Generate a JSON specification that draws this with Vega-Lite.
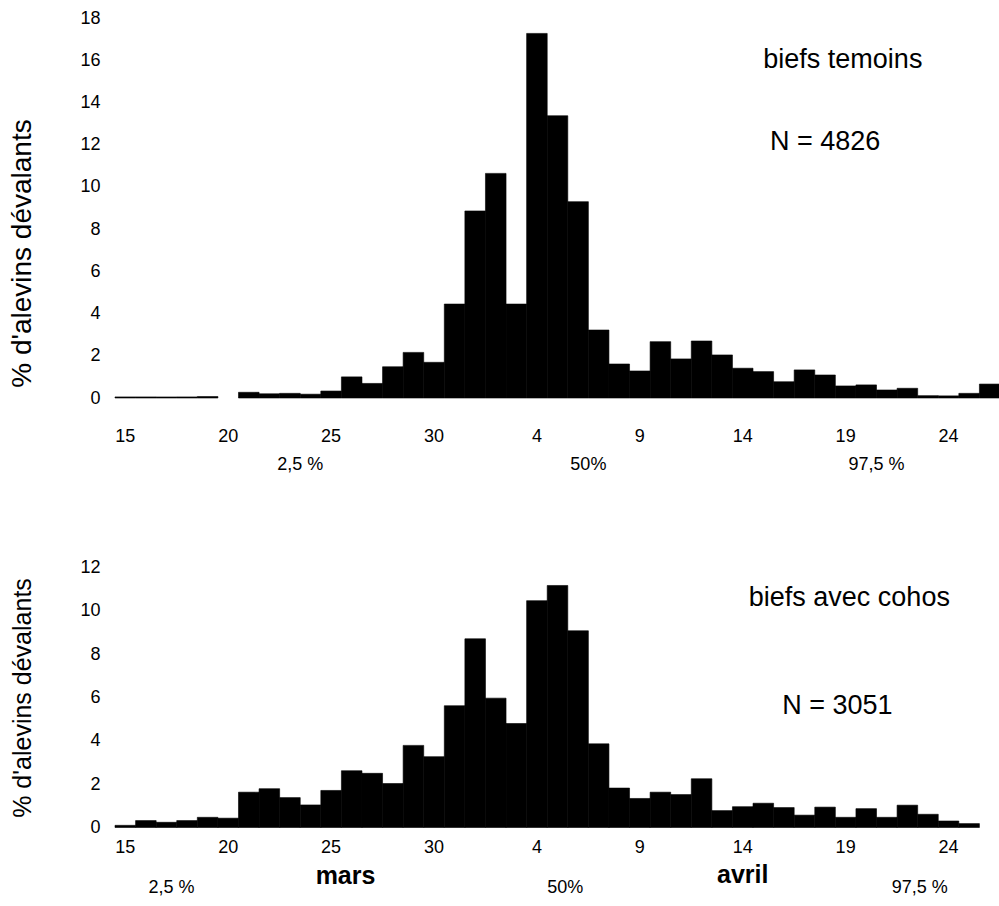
{
  "$schema": "https://vega.github.io/schema/vega-lite/v6.json",
  "padding": {"left": 8, "top": 9, "right": 0, "bottom": 0},
  "background": "white",
  "config": {
    "font": "Liberation Sans",
    "view": {"stroke": null},
    "axis": {"grid": false, "domain": false, "ticks": false, "labelColor": "black", "titleColor": "black", "titleFontWeight": "normal"}
  },
  "spacing": 169.5,
  "bounds": "flush",
  "datasets": {
    "temoins": [
      {"date": "03-15", "pct": 0.05}, {"date": "03-16", "pct": 0.05}, {"date": "03-17", "pct": 0.05},
      {"date": "03-18", "pct": 0.05}, {"date": "03-19", "pct": 0.07}, {"date": "03-20", "pct": 0},
      {"date": "03-21", "pct": 0.27}, {"date": "03-22", "pct": 0.2}, {"date": "03-23", "pct": 0.22},
      {"date": "03-24", "pct": 0.18}, {"date": "03-25", "pct": 0.33}, {"date": "03-26", "pct": 1.0},
      {"date": "03-27", "pct": 0.69}, {"date": "03-28", "pct": 1.48}, {"date": "03-29", "pct": 2.16},
      {"date": "03-30", "pct": 1.69}, {"date": "03-31", "pct": 4.45}, {"date": "04-01", "pct": 8.86},
      {"date": "04-02", "pct": 10.64}, {"date": "04-03", "pct": 4.45}, {"date": "04-04", "pct": 17.27},
      {"date": "04-05", "pct": 13.37}, {"date": "04-06", "pct": 9.3}, {"date": "04-07", "pct": 3.22},
      {"date": "04-08", "pct": 1.61}, {"date": "04-09", "pct": 1.28}, {"date": "04-10", "pct": 2.67},
      {"date": "04-11", "pct": 1.85}, {"date": "04-12", "pct": 2.7}, {"date": "04-13", "pct": 2.04},
      {"date": "04-14", "pct": 1.41}, {"date": "04-15", "pct": 1.25}, {"date": "04-16", "pct": 0.77},
      {"date": "04-17", "pct": 1.33}, {"date": "04-18", "pct": 1.09}, {"date": "04-19", "pct": 0.57},
      {"date": "04-20", "pct": 0.62}, {"date": "04-21", "pct": 0.38}, {"date": "04-22", "pct": 0.46},
      {"date": "04-23", "pct": 0.11}, {"date": "04-24", "pct": 0.1}, {"date": "04-25", "pct": 0.22},
      {"date": "04-26", "pct": 0.66}
    ],
    "cohos": [
      {"date": "03-15", "pct": 0.1}, {"date": "03-16", "pct": 0.32}, {"date": "03-17", "pct": 0.24},
      {"date": "03-18", "pct": 0.32}, {"date": "03-19", "pct": 0.47}, {"date": "03-20", "pct": 0.43},
      {"date": "03-21", "pct": 1.63}, {"date": "03-22", "pct": 1.79}, {"date": "03-23", "pct": 1.38},
      {"date": "03-24", "pct": 1.04}, {"date": "03-25", "pct": 1.71}, {"date": "03-26", "pct": 2.62},
      {"date": "03-27", "pct": 2.5}, {"date": "03-28", "pct": 2.03}, {"date": "03-29", "pct": 3.79},
      {"date": "03-30", "pct": 3.27}, {"date": "03-31", "pct": 5.62}, {"date": "04-01", "pct": 8.71},
      {"date": "04-02", "pct": 5.97}, {"date": "04-03", "pct": 4.8}, {"date": "04-04", "pct": 10.47},
      {"date": "04-05", "pct": 11.17}, {"date": "04-06", "pct": 9.08}, {"date": "04-07", "pct": 3.86},
      {"date": "04-08", "pct": 1.82}, {"date": "04-09", "pct": 1.34}, {"date": "04-10", "pct": 1.63},
      {"date": "04-11", "pct": 1.52}, {"date": "04-12", "pct": 2.25}, {"date": "04-13", "pct": 0.78},
      {"date": "04-14", "pct": 0.96}, {"date": "04-15", "pct": 1.12}, {"date": "04-16", "pct": 0.92},
      {"date": "04-17", "pct": 0.57}, {"date": "04-18", "pct": 0.94}, {"date": "04-19", "pct": 0.47},
      {"date": "04-20", "pct": 0.87}, {"date": "04-21", "pct": 0.47}, {"date": "04-22", "pct": 1.03},
      {"date": "04-23", "pct": 0.61}, {"date": "04-24", "pct": 0.3}, {"date": "04-25", "pct": 0.18},
      {"date": "04-26", "pct": 0}
    ]
  },
  "vconcat": [
    {
      "width": 885,
      "height": 380,
      "layer": [
        {
          "data": {"name": "temoins"},
          "mark": {"type": "bar", "color": "black", "stroke": "black", "strokeWidth": 0.6},
          "encoding": {
            "x": {
              "field": "date", "type": "ordinal", "title": null,
              "scale": {"paddingInner": 0, "paddingOuter": 0},
              "axis": {
                "values": ["03-15", "03-20", "03-25", "03-30", "04-04", "04-09", "04-14", "04-19", "04-24"],
                "labelExpr": "parseInt(substring(datum.label, 3, 5))",
                "labelAngle": 0, "labelFontSize": 18, "labelPadding": 29
              }
            },
            "y": {
              "field": "pct", "type": "quantitative", "title": "% d'alevins dévalants",
              "scale": {"domain": [0, 18], "nice": false},
              "axis": {
                "values": [0, 2, 4, 6, 8, 10, 12, 14, 16, 18],
                "labelFontSize": 18, "labelPadding": 15,
                "titleFontSize": 28, "titlePadding": 43, "titleY": 235
              }
            },
            "strokeOpacity": {"condition": {"test": "datum.pct > 0", "value": 1}, "value": 0}
          }
        },
        {
          "data": {"values": [{}]},
          "mark": {"type": "text", "text": "biefs temoins", "fontSize": 27, "align": "left", "baseline": "alphabetic", "color": "black"},
          "encoding": {"x": {"datum": "04-15", "type": "ordinal"}, "y": {"datum": 15.62, "type": "quantitative"}}
        },
        {
          "data": {"values": [{}]},
          "mark": {"type": "text", "text": "N = 4826", "fontSize": 27, "align": "center", "baseline": "alphabetic", "color": "black"},
          "encoding": {"x": {"datum": "04-18", "type": "ordinal"}, "y": {"datum": 11.75, "type": "quantitative"}}
        },
        {
          "data": {"values": [{}]},
          "mark": {"type": "text", "text": "2,5 %", "fontSize": 18, "align": "center", "baseline": "alphabetic", "color": "black"},
          "encoding": {"x": {"datum": "03-23", "type": "ordinal", "bandPosition": 1}, "y": {"datum": -3.4, "type": "quantitative"}}
        },
        {
          "data": {"values": [{}]},
          "mark": {"type": "text", "text": "50%", "fontSize": 18, "align": "center", "baseline": "alphabetic", "color": "black"},
          "encoding": {"x": {"datum": "04-06", "type": "ordinal", "bandPosition": 1}, "y": {"datum": -3.4, "type": "quantitative"}}
        },
        {
          "data": {"values": [{}]},
          "mark": {"type": "text", "text": "97,5 %", "fontSize": 18, "align": "center", "baseline": "alphabetic", "color": "black"},
          "encoding": {"x": {"datum": "04-20", "type": "ordinal", "bandPosition": 1}, "y": {"datum": -3.4, "type": "quantitative"}}
        }
      ]
    },
    {
      "width": 885,
      "height": 260,
      "layer": [
        {
          "data": {"name": "cohos"},
          "mark": {"type": "bar", "color": "black", "stroke": "black", "strokeWidth": 0.6},
          "encoding": {
            "x": {
              "field": "date", "type": "ordinal", "title": null,
              "scale": {"paddingInner": 0, "paddingOuter": 0},
              "axis": {
                "values": ["03-15", "03-20", "03-25", "03-30", "04-04", "04-09", "04-14", "04-19", "04-24"],
                "labelExpr": "parseInt(substring(datum.label, 3, 5))",
                "labelAngle": 0, "labelFontSize": 18, "labelPadding": 11
              }
            },
            "y": {
              "field": "pct", "type": "quantitative", "title": "% d'alevins dévalants",
              "scale": {"domain": [0, 12], "nice": false},
              "axis": {
                "values": [0, 2, 4, 6, 8, 10, 12],
                "labelFontSize": 18, "labelPadding": 15,
                "titleFontSize": 25, "titlePadding": 44
              }
            },
            "strokeOpacity": {"condition": {"test": "datum.pct > 0", "value": 1}, "value": 0}
          }
        },
        {
          "data": {"values": [{}]},
          "mark": {"type": "text", "text": "biefs avec cohos", "fontSize": 27, "align": "center", "baseline": "alphabetic", "color": "black"},
          "encoding": {"x": {"datum": "04-19", "type": "ordinal", "bandPosition": 0.68}, "y": {"datum": 10.24, "type": "quantitative"}}
        },
        {
          "data": {"values": [{}]},
          "mark": {"type": "text", "text": "N = 3051", "fontSize": 27, "align": "center", "baseline": "alphabetic", "color": "black"},
          "encoding": {"x": {"datum": "04-19", "type": "ordinal", "bandPosition": 0.1}, "y": {"datum": 5.26, "type": "quantitative"}}
        },
        {
          "data": {"values": [{}]},
          "mark": {"type": "text", "text": "2,5 %", "fontSize": 18, "align": "center", "baseline": "alphabetic", "color": "black"},
          "encoding": {"x": {"datum": "03-17", "type": "ordinal", "bandPosition": 0.75}, "y": {"datum": -3.03, "type": "quantitative"}}
        },
        {
          "data": {"values": [{}]},
          "mark": {"type": "text", "text": "mars", "fontSize": 25, "fontWeight": "bold", "align": "center", "baseline": "alphabetic", "color": "black"},
          "encoding": {"x": {"datum": "03-26", "type": "ordinal", "bandPosition": 0.2}, "y": {"datum": -2.62, "type": "quantitative"}}
        },
        {
          "data": {"values": [{}]},
          "mark": {"type": "text", "text": "50%", "fontSize": 18, "align": "center", "baseline": "alphabetic", "color": "black"},
          "encoding": {"x": {"datum": "04-05", "type": "ordinal", "bandPosition": 0.88}, "y": {"datum": -3.03, "type": "quantitative"}}
        },
        {
          "data": {"values": [{}]},
          "mark": {"type": "text", "text": "avril", "fontSize": 25, "fontWeight": "bold", "align": "center", "baseline": "alphabetic", "color": "black"},
          "encoding": {"x": {"datum": "04-14", "type": "ordinal", "bandPosition": 0.5}, "y": {"datum": -2.55, "type": "quantitative"}}
        },
        {
          "data": {"values": [{}]},
          "mark": {"type": "text", "text": "97,5 %", "fontSize": 18, "align": "center", "baseline": "alphabetic", "color": "black"},
          "encoding": {"x": {"datum": "04-23", "type": "ordinal", "bandPosition": 0.1}, "y": {"datum": -3.03, "type": "quantitative"}}
        }
      ]
    }
  ]
}
